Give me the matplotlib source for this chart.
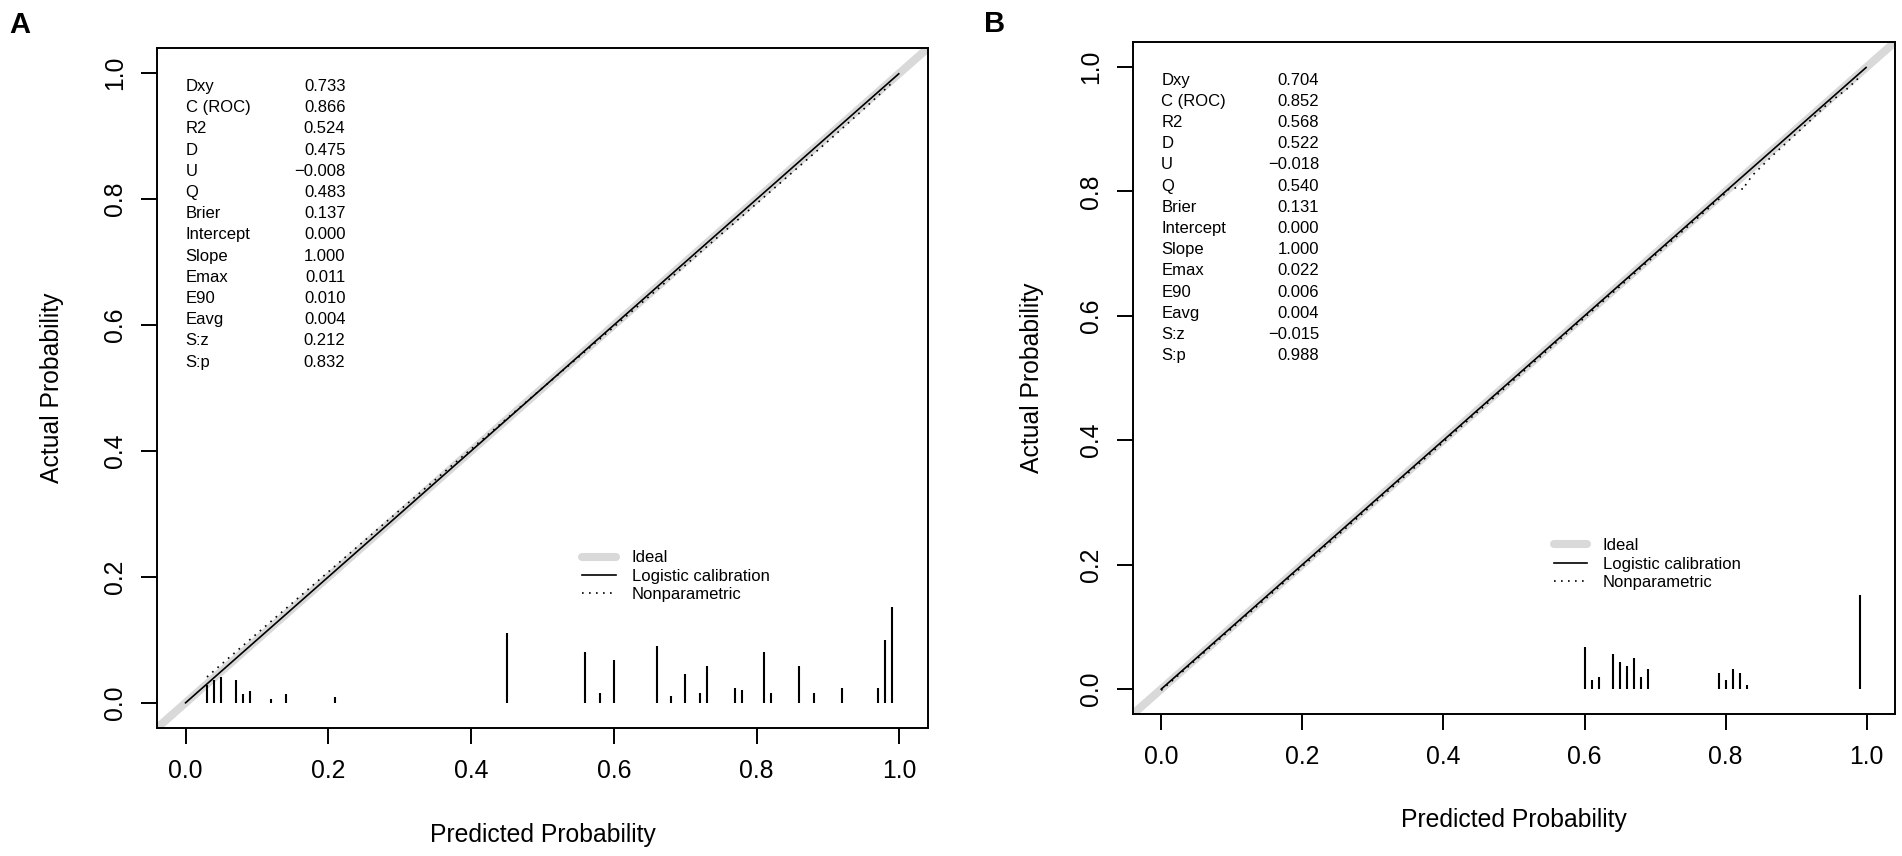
import matplotlib
matplotlib.use("Agg")
import matplotlib.pyplot as plt
from matplotlib.lines import Line2D
from matplotlib.transforms import offset_copy

plt.rcParams['font.family'] = ['Liberation Sans', 'DejaVu Sans']

# ---------------- data ----------------
stat_labels = ["Dxy", "C (ROC)", "R2", "D", "U", "Q", "Brier", "Intercept",
               "Slope", "Emax", "E90", "Eavg", "S:z", "S:p"]
stat_A = ["0.733", "0.866", "0.524", "0.475", "\u22120.008", "0.483", "0.137",
          "0.000", "1.000", "0.011", "0.010", "0.004", "0.212", "0.832"]
stat_B = ["0.704", "0.852", "0.568", "0.522", "\u22120.018", "0.540", "0.131",
          "0.000", "1.000", "0.022", "0.006", "0.004", "\u22120.015", "0.988"]

# logistic calibration line (intercept 0, slope 1)
logit_x_A = [0.0, 0.999]
logit_y_A = [0.0, 0.999]
logit_x_B = [0.0, 0.999]
logit_y_B = [0.0, 0.999]

# nonparametric (lowess) curves
np_x_A = [0.03, 0.05, 0.10, 0.15, 0.20, 0.30, 0.40, 0.50, 0.60, 0.70, 0.80, 0.90, 0.95, 0.99]
np_y_A = [0.041, 0.061, 0.110, 0.159, 0.208, 0.306, 0.403, 0.500, 0.597, 0.695, 0.793, 0.892, 0.943, 0.985]
np_x_B = [0.0, 0.20, 0.40, 0.60, 0.70, 0.80, 0.804, 0.816, 0.826, 0.829, 0.840, 0.866, 0.906, 0.944, 0.974, 0.99]
np_y_B = [-0.002, 0.197, 0.397, 0.597, 0.697, 0.797, 0.803, 0.806, 0.803, 0.8125, 0.828, 0.857, 0.899, 0.940, 0.9665, 0.984]

# distribution of predicted probabilities (spikes)
rug_x_A = [0.03, 0.04, 0.05, 0.07, 0.08, 0.09, 0.12, 0.14, 0.21, 0.45, 0.56, 0.58, 0.60, 0.66,
           0.68, 0.70, 0.72, 0.73, 0.77, 0.78, 0.81, 0.82, 0.86, 0.88, 0.92, 0.97, 0.98, 0.99]
rug_h_A = [0.028, 0.037, 0.041, 0.037, 0.014, 0.019, 0.006, 0.014, 0.010, 0.111, 0.081, 0.015, 0.068, 0.090,
           0.011, 0.046, 0.015, 0.059, 0.024, 0.020, 0.081, 0.015, 0.059, 0.015, 0.024, 0.024, 0.099, 0.152]
rug_x_B = [0.60, 0.61, 0.62, 0.64, 0.65, 0.66, 0.67, 0.68, 0.69, 0.79, 0.80, 0.81, 0.82, 0.83, 0.99]
rug_h_B = [0.067, 0.015, 0.019, 0.056, 0.044, 0.037, 0.050, 0.019, 0.032, 0.026, 0.014, 0.032, 0.026, 0.007, 0.152]

ticks = [0.0, 0.2, 0.4, 0.6, 0.8, 1.0]
tick_labels = ["0.0", "0.2", "0.4", "0.6", "0.8", "1.0"]
legend_labels = ["Ideal", "Logistic calibration", "Nonparametric"]

# ---------------- figure ----------------
W, H = 1902, 856
fig = plt.figure(figsize=(W / 100, H / 100), dpi=100)

def px_axes(l, t, r, b):
    return fig.add_axes([l / W, 1 - b / H, (r - l) / W, (b - t) / H])

axA = px_axes(157, 48, 928, 728)
axB = px_axes(1133, 42, 1895, 714)

IDEAL = "#d9d9d9"
TXT = 12
AXFS = 17.8

def draw(ax, lx, ly, nx, ny, rx, rh, stats):
    lim = (-0.04, 1.04)
    ax.set_xlim(*lim)
    ax.set_ylim(*lim)
    ax.plot(lim, lim, color=IDEAL, lw=5.8, solid_capstyle='round', zorder=1)
    ax.plot(lx, ly, color='black', lw=1.2, zorder=3)
    ax.plot(nx, ny, color='black', lw=1.2, dashes=(1, 3.2), zorder=3)
    ax.vlines(rx, 0, rh, colors='black', lw=1.5, zorder=3)

    for s in ax.spines.values():
        s.set_linewidth(1.4)
    ax.set_xticks(ticks)
    ax.set_xticklabels(tick_labels)
    ax.set_yticks(ticks)
    ax.set_yticklabels(tick_labels, rotation=90, va='center')
    ax.tick_params(direction='out', length=11.5, width=1.4, labelsize=AXFS)
    ax.tick_params(axis='x', pad=11)
    ax.tick_params(axis='y', pad=10)

    ax.set_xlabel("Predicted Probability", fontsize=AXFS, va='center')
    ax.set_ylabel("Actual Probability", fontsize=AXFS, va='center')

    for i, (lab, val) in enumerate(zip(stat_labels, stats)):
        tr = offset_copy(ax.transData, fig=fig, x=0, y=-(7 + 21.2 * i), units='dots')
        ax.text(0.0, 0.99, lab, transform=tr, ha='left', va='center', fontsize=TXT)
        ax.text(0.224, 0.99, val, transform=tr, ha='right', va='center', fontsize=TXT)

    handles = [Line2D([], [], color=IDEAL, lw=5.8, solid_capstyle='round'),
               Line2D([], [], color='black', lw=1.2),
               Line2D([], [], color='black', lw=1.2, dashes=(1, 3.2))]
    ax.legend(handles, legend_labels, loc='center left', bbox_to_anchor=(0.556, 0.201),
              bbox_transform=ax.transData, frameon=False, borderpad=0, borderaxespad=0,
              handlelength=2.0, handletextpad=0.96, labelspacing=0.2, fontsize=TXT)

draw(axA, logit_x_A, logit_y_A, np_x_A, np_y_A, rug_x_A, rug_h_A, stat_A)
draw(axB, logit_x_B, logit_y_B, np_x_B, np_y_B, rug_x_B, rug_h_B, stat_B)

axA.xaxis.set_label_coords(0.5, (728 - 835) / 680)
axA.yaxis.set_label_coords((52 - 157) / 771, 0.5)
axB.xaxis.set_label_coords(0.5, (714 - 820) / 672)
axB.yaxis.set_label_coords((1032 - 1133) / 762, 0.5)

fig.text(20 / W, 1 - 25 / H, "A", fontsize=21, fontweight='bold', ha='center', va='center')
fig.text(995 / W, 1 - 24 / H, "B", fontsize=21, fontweight='bold', ha='center', va='center')

fig.savefig("out.png", dpi=100)
